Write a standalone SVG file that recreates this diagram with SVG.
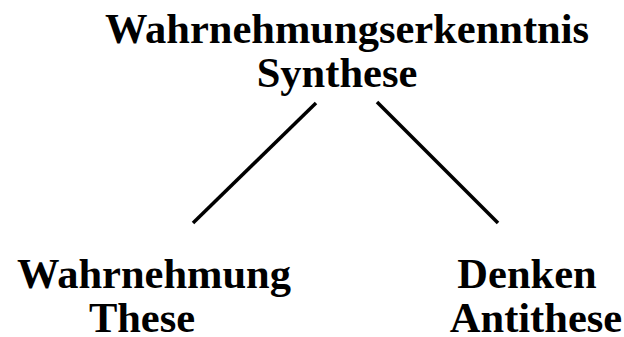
<svg xmlns="http://www.w3.org/2000/svg" width="624" height="337" viewBox="0 0 624 337">
<style>
.t{font-family:"Liberation Serif","Times New Roman",serif;font-weight:bold;font-size:42.5px;fill:#000;text-anchor:middle}
.c{stroke:#000;stroke-width:3.5;fill:none}
</style>
<rect width="624" height="337" fill="#fff"/>
<g id="synthese">
<text class="t" x="347" y="43">Wahrnehmungserkenntnis</text>
<text class="t" x="337" y="87">Synthese</text>
</g>
<g id="these">
<text class="t" x="154" y="288">Wahrnehmung</text>
<text class="t" x="142" y="332">These</text>
</g>
<g id="antithese">
<text class="t" x="527" y="288">Denken</text>
<text class="t" x="536" y="332">Antithese</text>
</g>
<g id="connectors">
<line class="c" x1="316" y1="103" x2="193" y2="223"/>
<line class="c" x1="377" y1="102" x2="498" y2="223"/>
</g>
</svg>
